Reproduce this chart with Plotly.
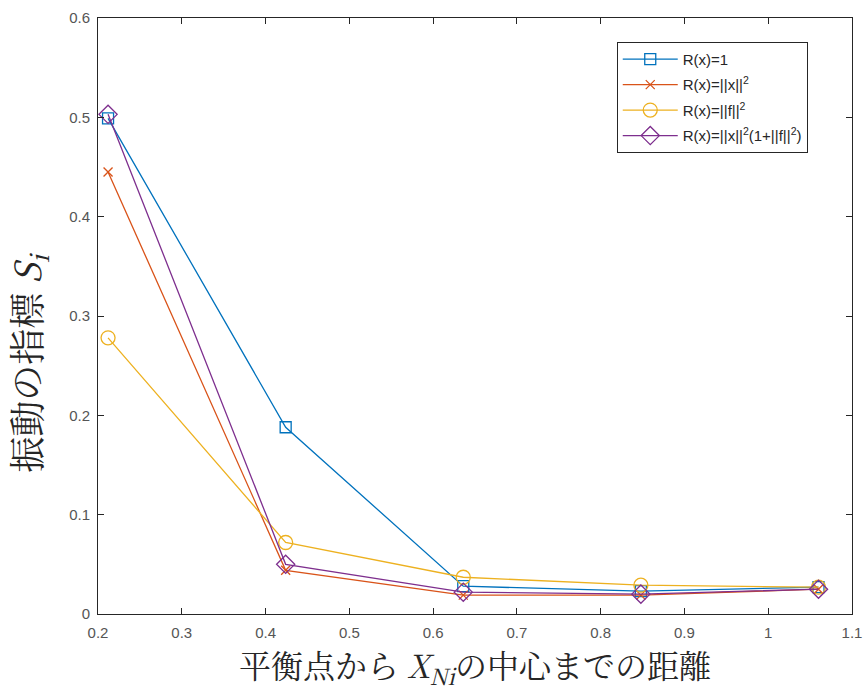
import plotly.graph_objects as go

# distance from the equilibrium point to the centre of X_Ni
distance = [0.212, 0.424, 0.636, 0.848, 1.06]

# vibration index S_i for each regularisation R(x)
s_const = [0.499, 0.188, 0.028, 0.023, 0.027]
s_xnorm = [0.445, 0.044, 0.019, 0.019, 0.025]
s_fnorm = [0.278, 0.072, 0.037, 0.029, 0.027]
s_mixed = [0.503, 0.050, 0.022, 0.020, 0.025]

series_names = [
    "R(x)=1",
    "R(x)=||x||<sup>2</sup>",
    "R(x)=||f||<sup>2</sup>",
    "R(x)=||x||<sup>2</sup>(1+||f||<sup>2</sup>)",
]
series_values = [s_const, s_xnorm, s_fnorm, s_mixed]
colors = ["#0072BD", "#D95319", "#EDB120", "#7E2F8E"]
symbols = ["square-open", "x-thin-open", "circle-open", "diamond-open"]
marker_sizes = [11, 9, 14, 14]

x_ticks = [0.2, 0.3, 0.4, 0.5, 0.6, 0.7, 0.8, 0.9, 1.0, 1.1]
x_tick_text = ["0.2", "0.3", "0.4", "0.5", "0.6", "0.7", "0.8", "0.9", "1", "1.1"]
y_ticks = [0, 0.1, 0.2, 0.3, 0.4, 0.5, 0.6]
y_tick_text = ["0", "0.1", "0.2", "0.3", "0.4", "0.5", "0.6"]

fig = go.Figure()
for i, (name, vals, col, sym, ms) in enumerate(
        zip(series_names, series_values, colors, symbols, marker_sizes)):
    fig.add_trace(go.Scatter(
        x=distance, y=vals, name=name, mode="lines+markers",
        legendgroup=f"g{i}",
        line=dict(color=col, width=1.3),
        marker=dict(symbol=sym, size=ms, color=col, line=dict(color=col, width=1.3)),
    ))

axis_common = dict(
    showline=True, linecolor="#262626", linewidth=1, mirror="ticks",
    ticks="inside", ticklen=6, tickcolor="#262626", tickwidth=1,
    showgrid=False, zeroline=False, automargin=False,
    tickfont=dict(family="Liberation Sans, Arial, sans-serif", size=15, color="#555555"),
)

fig.update_layout(
    width=864, height=693,
    margin=dict(l=98, r=12, t=18, b=79),
    paper_bgcolor="white", plot_bgcolor="white",
    showlegend=True,
    legend=dict(
        x=0.688, y=0.96, xanchor="left", yanchor="top",
        bgcolor="white", bordercolor="#262626", borderwidth=1,
        font=dict(family="Liberation Sans, Arial, sans-serif", size=15, color="#262626"),
        tracegroupgap=3, itemwidth=55,
    ),
    xaxis=dict(
        range=[0.2, 1.1], tickvals=x_ticks, ticktext=x_tick_text,
        ticklabelstandoff=5,
        title=dict(
            text="平衡点から <i>X<sub>Ni</sub></i>の中心までの距離",
            font=dict(family="Noto Serif CJK JP, Noto Sans CJK JP, serif", size=32, color="#262626"),
            standoff=12,
        ),
        **axis_common,
    ),
    yaxis=dict(
        range=[0, 0.6], tickvals=y_ticks, ticktext=y_tick_text,
        ticklabelstandoff=4,
        **axis_common,
    ),
    annotations=[dict(
        text="振動の指標 <i>S<sub>i</sub></i>",
        xref="paper", yref="paper", x=-0.093, y=0.423,
        xanchor="center", yanchor="middle", textangle=-90, showarrow=False,
        font=dict(family="Noto Serif CJK JP, Noto Sans CJK JP, serif", size=36, color="#262626"),
    )],
)

fig.write_html("out.html")
